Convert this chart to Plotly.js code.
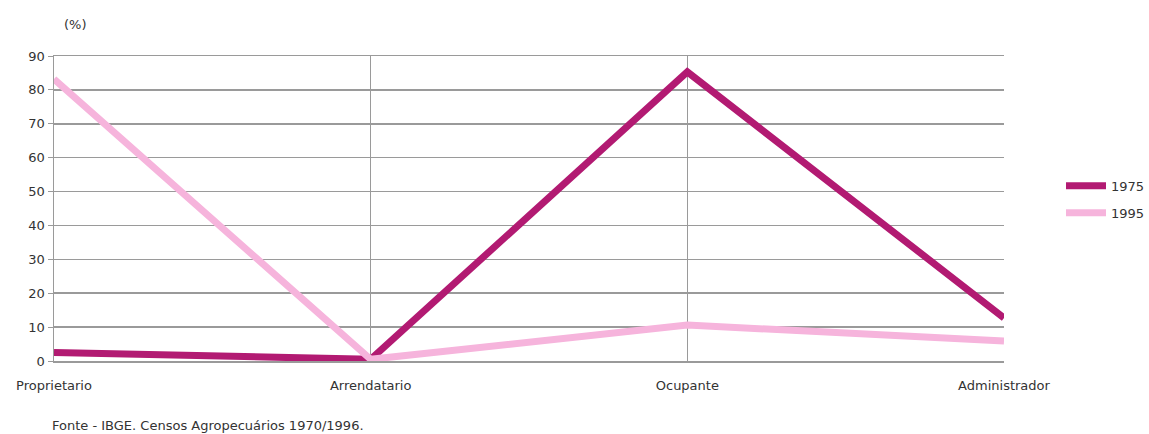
<!DOCTYPE html>
<html><head><meta charset="utf-8">
<script src="https://cdn.plot.ly/plotly-3.0.1.min.js"></script>
<style>html,body{margin:0;padding:0;background:#fff}</style>
</head><body>
<div id="chart" style="width:1149px;height:434px"></div>
<script>
const categories = ["Proprietário", "Arrendatário", "Ocupante", "Administrador"];
const tickLabels = ["Proprietario", "Arrendatario", "Ocupante", "Administrador"];
const series1975 = [2.5, 0.5, 85.3, 12.7];
const series1995 = [83.2, 0.5, 10.6, 5.9];
const yTicks = [0, 10, 20, 30, 40, 50, 60, 70, 80, 90];

const xIdx = categories.map((c, i) => i);

const traces = [
  {x: xIdx, y: series1975, name: "1975", type: "scatter", mode: "lines", legendgroup: "a",
   line: {color: "#B21A72", width: 7}, cliponaxis: false},
  {x: xIdx, y: series1995, name: "1995", type: "scatter", mode: "lines", legendgroup: "b",
   line: {color: "#F6B4DC", width: 7}, cliponaxis: false}
];

const FONT = "DejaVu Sans, Verdana, sans-serif";

const layout = {
  width: 1149, height: 434,
  margin: {l: 54, r: 145, t: 56, b: 73, autoexpand: false},
  paper_bgcolor: "#fff", plot_bgcolor: "#fff",
  font: {family: FONT, size: 13, color: "#333"},
  showlegend: true,
  legend: {x: 1.06, y: 0.53, xanchor: "left", yanchor: "middle",
           font: {family: FONT, size: 13, color: "#333"}, itemwidth: 40, tracegroupgap: 7,
           bgcolor: "rgba(0,0,0,0)"},
  xaxis: {range: [0, 3], tickvals: xIdx, ticktext: tickLabels,
          showgrid: true, gridcolor: "#9a9a9a", gridwidth: 1,
          zeroline: false, showline: true, linecolor: "#9a9a9a", linewidth: 1.5,
          mirror: true, ticks: "outside", ticklen: 12, tickcolor: "rgba(0,0,0,0)",
          fixedrange: true, tickfont: {family: FONT, size: 13, color: "#333"}},
  yaxis: {range: [0, 90], tickvals: yTicks, showgrid: true,
          gridcolor: "#9a9a9a", gridwidth: 1.5, zeroline: false,
          showline: true, linecolor: "#9a9a9a", linewidth: 1.5,
          ticks: "outside", ticklen: 5, tickcolor: "#9a9a9a",
          tickfont: {family: FONT, size: 13, color: "#333"}},
  annotations: [
    {text: "(%)", xref: "paper", yref: "paper", x: 0.0, y: 1.0,
     xanchor: "left", yanchor: "bottom", xshift: 8, yshift: 22, showarrow: false,
     font: {family: FONT, size: 13, color: "#333"}},
    {text: "Fonte - IBGE. Censos Agropecuários 1970/1996.", xref: "paper", yref: "paper",
     x: 0.0, y: 0, xanchor: "left", yanchor: "top", xshift: -4, yshift: -55, showarrow: false,
     font: {family: FONT, size: 13, color: "#333"}}
  ]
};

Plotly.newPlot("chart", traces, layout, {staticPlot: true, displayModeBar: false});
</script>
</body></html>
